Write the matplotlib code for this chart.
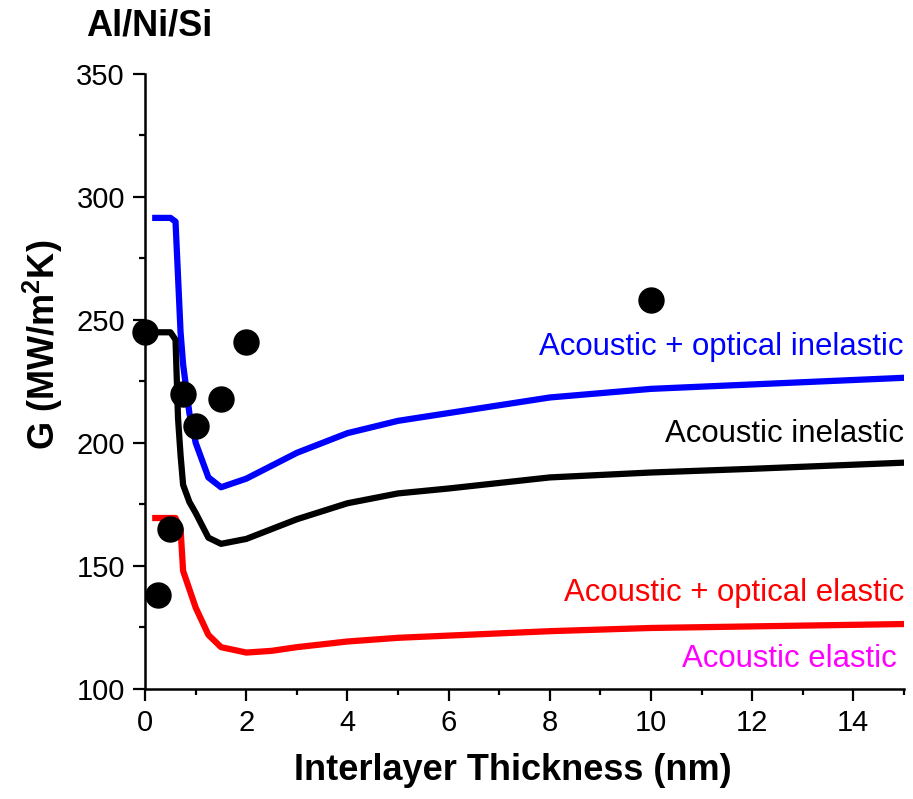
import matplotlib
matplotlib.use("Agg")
import matplotlib.pyplot as plt
from matplotlib.ticker import MultipleLocator

plt.rcParams["font.family"] = ["Liberation Sans", "DejaVu Sans"]
plt.rcParams["mathtext.fontset"] = "custom"
plt.rcParams["mathtext.rm"] = "Liberation Sans"
plt.rcParams["mathtext.bf"] = "Liberation Sans:bold"

# measured points
meas_x = [0.0, 0.25, 0.5, 0.75, 1.0, 1.5, 2.0, 10.0]
meas_g = [245, 138, 165, 220, 207, 218, 241, 258]

# acoustic + optical inelastic
blue_x = [0.2, 0.5, 0.6, 0.7, 0.75, 0.875, 1.0, 1.25, 1.5, 2, 3, 4, 5, 8, 10, 15]
blue_g = [291.5, 291.5, 290, 245, 232, 212, 200, 186, 182, 185.5, 196, 204, 209, 218.5, 222, 226.5]

# acoustic inelastic
black_x = [0.0, 0.5, 0.6, 0.65, 0.7, 0.75, 0.875, 1.0, 1.25, 1.5, 2, 2.5, 3, 4, 5, 6, 8, 10, 12, 15]
black_g = [245, 245, 242, 210, 195, 183, 176, 171.5, 161.5, 159, 161, 165, 169, 175.5, 179.5, 181.5, 186, 188, 189.5, 192]

# acoustic + optical elastic
red_x = [0.2, 0.6, 0.7, 0.75, 1.0, 1.25, 1.5, 2, 2.5, 3, 4, 5, 8, 10, 15]
red_g = [169.5, 169.5, 165, 148, 133, 122, 117, 114.8, 115.5, 117, 119.3, 120.8, 123.5, 124.8, 126.4]

labels = ["Acoustic + optical inelastic", "Acoustic inelastic",
          "Acoustic + optical elastic", "Acoustic elastic"]

fig = plt.figure(figsize=(9.13, 7.99), dpi=100)
ax = fig.add_axes([0.159, 0.1377, 0.831, 0.7697])

lw = 4.5
ax.plot(blue_x, blue_g, color="blue", linewidth=lw)
ax.plot(black_x, black_g, color="black", linewidth=lw)
ax.plot(red_x, red_g, color="red", linewidth=lw)
ax.plot(meas_x, meas_g, "o", color="black", markersize=18, clip_on=False, zorder=5)

ax.set_xlim(0, 15)
ax.set_ylim(100, 350)
ax.xaxis.set_major_locator(MultipleLocator(2))
ax.xaxis.set_minor_locator(MultipleLocator(1))
ax.yaxis.set_major_locator(MultipleLocator(50))
ax.yaxis.set_minor_locator(MultipleLocator(25))

for side in ["top", "right"]:
    ax.spines[side].set_visible(False)
for side in ["left", "bottom"]:
    ax.spines[side].set_linewidth(1.8)

ax.tick_params(which="major", direction="out", length=8.6, width=1.6, labelsize=21, pad=6)
ax.tick_params(which="minor", direction="out", length=4.3, width=1.6)

ax.set_xlabel("Interlayer Thickness (nm)", fontsize=26, fontweight="bold")
ax.set_ylabel(r"G (MW/m$^\mathbf{2}$K)", fontsize=26, fontweight="bold")
ax.xaxis.set_label_coords(0.485, -0.104)
ax.yaxis.set_label_coords(-0.106, 0.559)

colors = ["blue", "black", "red", "magenta"]
ypos = [0.556, 0.415, 0.156, 0.049]
xpos = [1.0, 1.0, 1.0, 0.99]
for text, c, xp, yp in zip(labels, colors, xpos, ypos):
    ax.text(xp, yp, text, color=c, fontsize=22.4, ha="right", va="center",
            transform=ax.transAxes)

fig.text(86 / 913, 1 - 26 / 799, "Al/Ni/Si", fontsize=26, fontweight="bold",
         ha="left", va="center")

fig.savefig("out.png", dpi=100)
